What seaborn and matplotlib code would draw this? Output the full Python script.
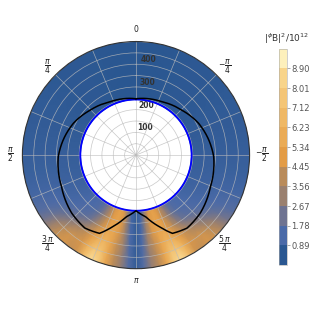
import numpy as np
import matplotlib
matplotlib.use("Agg")
import matplotlib.pyplot as plt
import seaborn as sns
from matplotlib.colors import LinearSegmentedColormap, ListedColormap, BoundaryNorm
import matplotlib.cm as cm

# ---------------- data ----------------
# field table: angle measured from the bottom (theta = pi), degrees
phi_deg = [0, 4, 8, 12, 16, 20, 24, 28, 32, 36, 40, 45, 50, 55, 60,
           70, 80, 90, 100, 110, 120, 130, 140, 150, 160, 170, 180]
radii = [245, 300, 350, 400, 450, 500]
tail = [0.32, 0.26, 0.2, 0.15, 0.1, 0.08, 0.05, 0.03, 0.02]
field_r245 = [0.3, 0.8, 2.8, 4.8, 5.2, 4.6, 3.4, 2.2, 1.4, 1.1, 1.0, 0.9, 0.8, 0.7, 0.6, 0.5, 0.45, 0.4] + tail
field_r300 = [0.3, 0.9, 3.0, 4.8, 5.4, 5.0, 4.0, 2.8, 1.8, 1.3, 1.1, 1.0, 0.9, 0.8, 0.7, 0.55, 0.45, 0.4] + tail
field_r350 = [0.3, 1.0, 3.0, 4.6, 5.5, 5.6, 4.8, 3.8, 2.8, 2.0, 1.6, 1.3, 1.1, 0.9, 0.8, 0.6, 0.5, 0.4] + tail
field_r400 = [0.3, 1.1, 3.0, 4.2, 5.5, 6.5, 6.0, 5.0, 4.2, 3.6, 3.0, 2.4, 1.7, 1.3, 1.0, 0.7, 0.5, 0.4] + tail
field_r450 = [0.3, 1.2, 2.8, 4.0, 5.5, 7.5, 7.8, 6.2, 4.6, 4.4, 4.4, 3.8, 2.8, 1.8, 1.2, 0.75, 0.5, 0.4] + tail
field_r500 = [0.3, 1.3, 2.8, 4.0, 5.6, 8.4, 9.0, 7.0, 4.4, 4.2, 4.6, 4.4, 3.4, 2.2, 1.4, 0.8, 0.5, 0.4] + tail

# black curve (theta in degrees, counter-clockwise from top)
curve_theta_deg = [0, 26, 46, 63, 78, 91, 113, 132, 145, 155, 162, 171, 180,
                   189, 198, 205, 215, 228, 247, 269, 282, 297, 314, 334, 360]
curve_r = [248, 261, 283, 309, 327, 342, 356, 381, 392, 380, 331, 275, 245,
           275, 331, 380, 392, 381, 356, 342, 327, 309, 283, 261, 248]

inner_radius = 245
r_max = 500
theta_tick_labels = ["0", r"$\dfrac{\pi}{4}$", r"$\dfrac{\pi}{2}$", r"$\dfrac{3\,\pi}{4}$",
                     r"$\pi$", r"$\dfrac{5\,\pi}{4}$", r"$-\dfrac{\pi}{2}$", r"$-\dfrac{\pi}{4}$"]
r_tick_values = [50, 100, 150, 200, 250, 300, 350, 400, 450]
r_tick_labels = ["", "100", "", "200", "", "300", "", "400", ""]
cbar_levels = [0.0, 0.89, 1.78, 2.67, 3.56, 4.45, 5.34, 6.23, 7.12, 8.01, 8.90, 9.79]
band_colors = ["#2a5791", "#4a6aa8", "#6e7391", "#9a806f", "#b98b5a", "#e39c46",
               "#eaab56", "#efb865", "#f4c576", "#f8d48a", "#fdf0bc"]

# ---------------- figure ----------------
sns.set_style("white")
plt.rcParams["font.family"] = ["DejaVu Sans"]

fig = plt.figure(figsize=(3.11, 3.11), dpi=100)
ax = fig.add_axes([0.072, 0.136, 0.7305, 0.7305], projection="polar")
ax.set_theta_zero_location("N")
ax.set_theta_direction(1)

phi = np.array(phi_deg, dtype=float)
theta_nodes = np.deg2rad(np.concatenate([180 - phi[::-1], 180 + phi[1:]]))
rows = [field_r245, field_r300, field_r350, field_r400, field_r450, field_r500]
C = np.array([np.concatenate([np.array(rw)[::-1], np.array(rw)[1:]]) for rw in rows])
T, R = np.meshgrid(theta_nodes, radii)

cmap_cont = LinearSegmentedColormap.from_list("field", band_colors)
ax.pcolormesh(T, R, C, shading="gouraud", cmap=cmap_cont,
              vmin=cbar_levels[0], vmax=cbar_levels[-1], zorder=0.5)

# inner boundary
circ_t = np.deg2rad(np.arange(0, 361, 1))
ax.plot(circ_t, np.full_like(circ_t, inner_radius), color="blue", lw=1.3, zorder=3)

# black curve
sns.lineplot(x=np.deg2rad(curve_theta_deg), y=curve_r, ax=ax, sort=False,
             color="black", lw=1.1, zorder=4)
curve_line = ax.lines[-1]
curve_line.get_path()._interpolation_steps = 40

ax.set_ylim(0, r_max)
ax.set_xticks(np.deg2rad(np.arange(0, 360, 22.5)))
xl = []
for i in range(16):
    xl.append(theta_tick_labels[i // 2] if i % 2 == 0 else "")
ax.set_xticklabels(xl, fontsize=5.5, color="#222222")
ax.tick_params(axis="x", pad=-2)
ax.set_yticks(r_tick_values)
ax.set_yticklabels(r_tick_labels, fontsize=5.5, fontweight="bold", color="#333333")
ax.set_rlabel_position(-3)
ax.grid(True, color="#bbbbbb", lw=0.5, alpha=0.8)
ax.spines["polar"].set_color("#333333")
ax.spines["polar"].set_linewidth(0.8)

# colorbar
cax = fig.add_axes([0.897, 0.148, 0.0257, 0.695])
sm = cm.ScalarMappable(norm=BoundaryNorm(cbar_levels, len(band_colors)),
                       cmap=ListedColormap(band_colors))
cb = fig.colorbar(sm, cax=cax, ticks=cbar_levels[1:-1])
cb.minorticks_off()
cb.ax.set_yticklabels([f"{v:.2f}" for v in cbar_levels[1:-1]], fontsize=6, color="#555555")
cb.ax.tick_params(length=2, width=0.5, color="#888888", pad=1)
cb.outline.set_linewidth(0.4)
cb.outline.set_edgecolor("#aaaaaa")
cax.set_title(r"$|^{\phi}\mathrm{B}|^2/10^{12}$", fontsize=6.5, color="#333333", pad=5, x=1.0)

fig.savefig("out.png", dpi=100)
